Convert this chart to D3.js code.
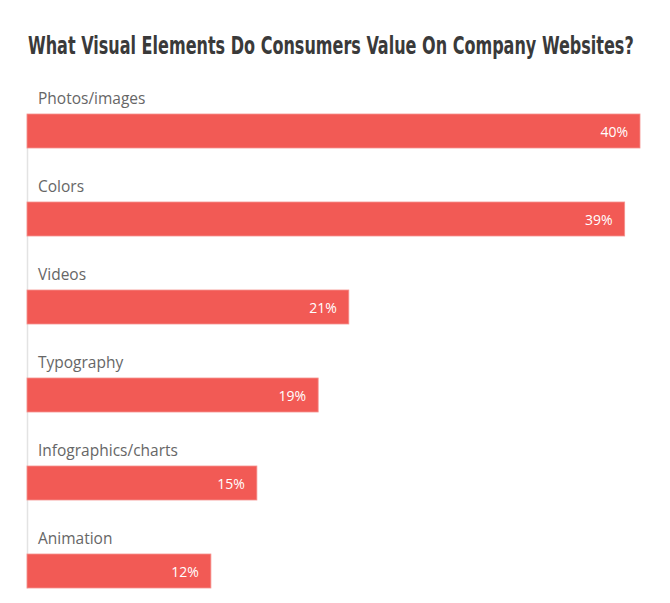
<!DOCTYPE html>
<html>
<head>
<meta charset="utf-8">
<script src="https://cdn.jsdelivr.net/npm/d3@7"></script>
<style>
  body { margin: 0; background: #fff; }
  .cat-label { font-family: "Open Sans", sans-serif; font-size: 15.5px; fill: #666; }
  .val-label { font-family: "Open Sans", sans-serif; font-size: 14px; fill: #fff; }
  .title { font-family: "DejaVu Sans Condensed", sans-serif; font-weight: bold; fill: #3a3a3a; }
</style>
</head>
<body>
<svg id="chart"></svg>
<script>
// categories and their shares (%)
const categories = ['Photos/images', 'Colors', 'Videos', 'Typography', 'Infographics/charts', 'Animation'];
const values = [40, 39, 21, 19, 15, 12];

const width = 670, height = 603;
const margin = {top: 114, left: 27, right: 30, bottom: 15};

const svg = d3.select('#chart')
    .attr('width', width)
    .attr('height', height);

// title: squeeze horizontally to mimic the condensed headline font
const titleWidth = 606;
const title = svg.append('text')
    .attr('class', 'title')
    .attr('font-size', 25)
    .text('What Visual Elements Do Consumers Value On Company Websites?');
const natural = title.node().getComputedTextLength();
title.attr('transform', `translate(28,54) scale(${Math.min(1, titleWidth / natural)},1)`);

const xScale = d3.scaleLinear()
    .domain([0, 40])
    .range([margin.left, width - margin.right]);

const yScale = d3.scaleBand()
    .domain(categories)
    .range([margin.top, height - margin.bottom])
    .paddingInner(54 / 88)
    .paddingOuter(0);

// faint left axis line
svg.append('g')
    .attr('transform', `translate(${margin.left},0)`)
    .call(d3.axisLeft(yScale).tickSize(0).tickFormat(''))
    .call(g => g.select('.domain').attr('stroke', '#e3e3e3').attr('stroke-width', 1.5));

const rows = categories.map((c, i) => ({cat: c, val: values[i]}));

svg.selectAll('.bar')
    .data(rows)
    .join('rect')
    .attr('class', 'bar')
    .attr('x', xScale(0))
    .attr('y', d => yScale(d.cat))
    .attr('width', d => xScale(d.val) - xScale(0))
    .attr('height', yScale.bandwidth())
    .attr('fill', '#f25a55')
    .attr('stroke', '#f6928e')
    .attr('stroke-width', 0.8);

svg.selectAll('.cat-label')
    .data(rows)
    .join('text')
    .attr('class', 'cat-label')
    .attr('x', xScale(0) + 11)
    .attr('y', d => yScale(d.cat) - 10)
    .text(d => d.cat);

svg.selectAll('.val-label')
    .data(rows)
    .join('text')
    .attr('class', 'val-label')
    .attr('x', d => xScale(d.val) - 12)
    .attr('y', d => yScale(d.cat) + 23)
    .attr('text-anchor', 'end')
    .text(d => d.val + '%');
</script>
</body>
</html>
